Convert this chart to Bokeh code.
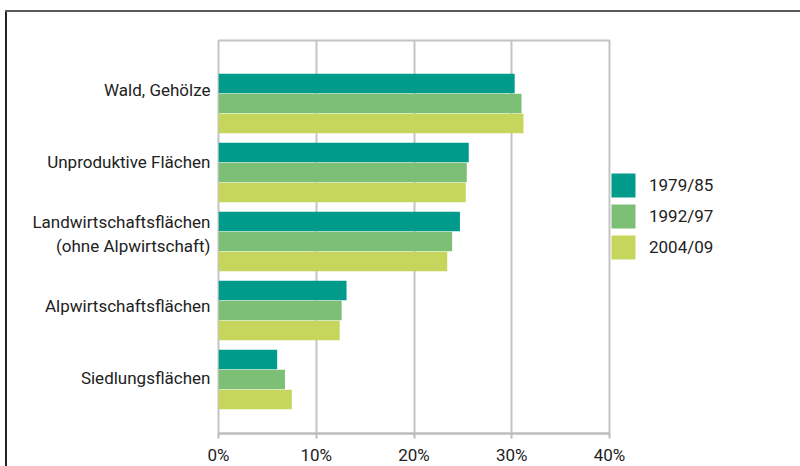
from bokeh.plotting import figure
from bokeh.models import (ColumnDataSource, Range1d, FixedTicker, Legend, LegendItem)
from bokeh.transform import dodge
from bokeh.embed import file_html
from bokeh.resources import INLINE

categories = ["Wald, Gehölze", "Unproduktive Flächen",
              "Landwirtschaftsflächen\n(ohne Alpwirtschaft)",
              "Alpwirtschaftsflächen", "Siedlungsflächen"]
series_names = ["1979/85", "1992/97", "2004/09"]
v1979 = [30.3, 25.6, 24.7, 13.1, 6.0]
v1992 = [31.0, 25.4, 23.9, 12.6, 6.8]
v2004 = [31.2, 25.3, 23.4, 12.4, 7.5]
x_ticks = [0, 10, 20, 30, 40]
x_tick_labels = ["0%", "10%", "20%", "30%", "40%"]

colors = ["#009b8a", "#7dbf74", "#c6d65c"]
FONT = "Roboto"
TXT = "#222222"
FS = "17px"

src = ColumnDataSource(dict(idx=list(range(len(categories))),
                            v1979=v1979, v1992=v1992, v2004=v2004))

p = figure(frame_width=391, frame_height=393,
           min_border_left=218, min_border_right=191,
           min_border_top=40, min_border_bottom=33,
           x_range=Range1d(0, 40), y_range=Range1d(4.783, -0.913),
           output_backend="svg", toolbar_location=None)

bh = 0.285
off = 0.29
renderers = []
for col, c, o in zip(["v1979", "v1992", "v2004"], colors, [-off, 0, off]):
    r = p.hbar(y=dodge("idx", o, range=p.y_range), right=col, left=0, height=bh,
               source=src, fill_color=c, line_color=None)
    renderers.append(r)

# axes
p.xaxis.ticker = FixedTicker(ticks=x_ticks)
p.xaxis.major_label_overrides = {t: l for t, l in zip(x_ticks, x_tick_labels)}
p.xaxis.axis_line_color = "#bbbbbb"
p.xaxis.axis_line_width = 2
p.xaxis.major_tick_line_color = "#bbbbbb"
p.xaxis.major_tick_line_width = 2
p.xaxis.major_tick_in = 0
p.xaxis.major_tick_out = 5
p.xaxis.minor_tick_line_color = None
p.xaxis.major_label_text_font = FONT
p.xaxis.major_label_text_font_size = FS
p.xaxis.major_label_text_color = TXT
p.xaxis.major_label_standoff = 6

# category labels sit slightly apart from the bar-group centres in the original
label_pos = [i * 1.043 - 0.19 for i in range(len(categories))]
p.yaxis.ticker = FixedTicker(ticks=label_pos)
p.yaxis.major_label_overrides = {t: c for t, c in zip(label_pos, categories)}
p.yaxis.axis_line_color = None
p.yaxis.major_tick_line_color = None
p.yaxis.major_tick_out = 0
p.yaxis.major_tick_in = 0
p.yaxis.minor_tick_line_color = None
p.yaxis.major_label_text_font = FONT
p.yaxis.major_label_text_font_size = FS
p.yaxis.major_label_text_color = TXT
p.yaxis.major_label_standoff = 8

p.xgrid.ticker = FixedTicker(ticks=x_ticks)
p.xgrid.grid_line_color = "#c4c4c4"
p.xgrid.grid_line_width = 2
p.ygrid.grid_line_color = None
p.outline_line_color = "#c4c4c4"
p.outline_line_width = 2

legend = Legend(items=[LegendItem(label=n, renderers=[r]) for n, r in zip(series_names, renderers)],
                location=(-1, 171), orientation="vertical",
                glyph_width=30, glyph_height=30, spacing=1, padding=0, margin=0,
                label_standoff=11, label_text_font=FONT, label_text_font_size=FS,
                label_text_color=TXT, border_line_color=None, background_fill_alpha=0)
p.add_layout(legend, "right")

# page frame lines drawn as CSS background behind a transparent border area
p.border_fill_color = None
p.background_fill_color = "white"
p.styles = {
    "background": ("linear-gradient(#5a5a5a,#5a5a5a) 5px 10px / 800px 2px no-repeat, "
                   "linear-gradient(#222,#222) 5px 10px / 2px 460px no-repeat, white")
}

open("out.html", "w").write(file_html(p, INLINE))
